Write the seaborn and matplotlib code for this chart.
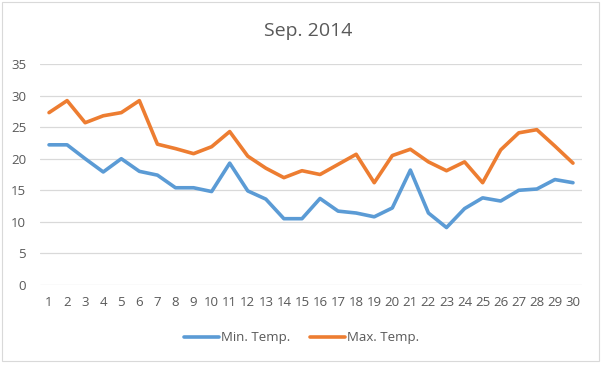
import pandas as pd
import matplotlib
matplotlib.use("Agg")
import matplotlib.pyplot as plt
import seaborn as sns
from matplotlib.patches import Rectangle

# daily values
days = list(range(1, 31))
min_temp = [22.2, 22.2, 20.0, 17.9, 20.0, 18.0, 17.4, 15.4, 15.4, 14.8,
            19.3, 14.9, 13.6, 10.5, 10.5, 13.7, 11.7, 11.4, 10.8, 12.2,
            18.2, 11.4, 9.1, 12.1, 13.8, 13.3, 15.0, 15.2, 16.7, 16.2]
max_temp = [27.3, 29.2, 25.7, 26.8, 27.3, 29.2, 22.3, 21.6, 20.8, 21.9,
            24.3, 20.4, 18.5, 17.0, 18.1, 17.5, 19.1, 20.7, 16.2, 20.5,
            21.5, 19.5, 18.1, 19.5, 16.2, 21.4, 24.1, 24.6, 22.0, 19.3]
series_names = ["Min. Temp.", "Max. Temp."]
colors = ["#5B9BD5", "#ED7D31"]

df = pd.DataFrame({"day": days * 2,
                   "temp": min_temp + max_temp,
                   "series": [series_names[0]] * 30 + [series_names[1]] * 30})

sns.set_style("white")
plt.rcParams["font.family"] = ["Open Sans", "DejaVu Sans"]
txt = "#595959"

fig = plt.figure(figsize=(6.02, 3.66), dpi=100)
ax = fig.add_axes([40 / 602, 1 - 285 / 366, 542 / 602, 221 / 366])

sns.lineplot(data=df, x="day", y="temp", hue="series", palette=colors,
             linewidth=2.6, ax=ax, legend=True)
for l in ax.lines:
    l.set_solid_joinstyle("round")
    l.set_solid_capstyle("round")

ax.set_xlim(0.5, 30.5)
ax.set_ylim(0, 35)
ax.set_yticks(range(0, 36, 5))
ax.set_xticks(days)
ax.grid(axis="y", color="#D9D9D9", linewidth=0.9)
ax.set_axisbelow(True)
for s in ax.spines.values():
    s.set_visible(False)
ax.tick_params(axis="both", length=0, labelsize=9.5, colors=txt)
ax.tick_params(axis="y", pad=10)
ax.tick_params(axis="x", pad=8)
ax.set_xlabel("")
ax.set_ylabel("")

fig.text(308 / 602, 1 - 31 / 366, "Sep. 2014", ha="center", va="center",
         fontsize=14, color=txt)

ax.legend(loc="center", bbox_to_anchor=(302 / 602, 1 - 338 / 366),
          bbox_transform=fig.transFigure, ncol=2, frameon=False,
          fontsize=9.5, labelcolor=txt, handlelength=2.6,
          handletextpad=0.2, columnspacing=1.5)

fig.patches.append(Rectangle((2 / 602, 1 - 361 / 366), 597 / 602, 359 / 366,
                             transform=fig.transFigure, fill=False,
                             edgecolor="#D9D9D9", linewidth=0.8))

fig.savefig("out.png", dpi=100)
